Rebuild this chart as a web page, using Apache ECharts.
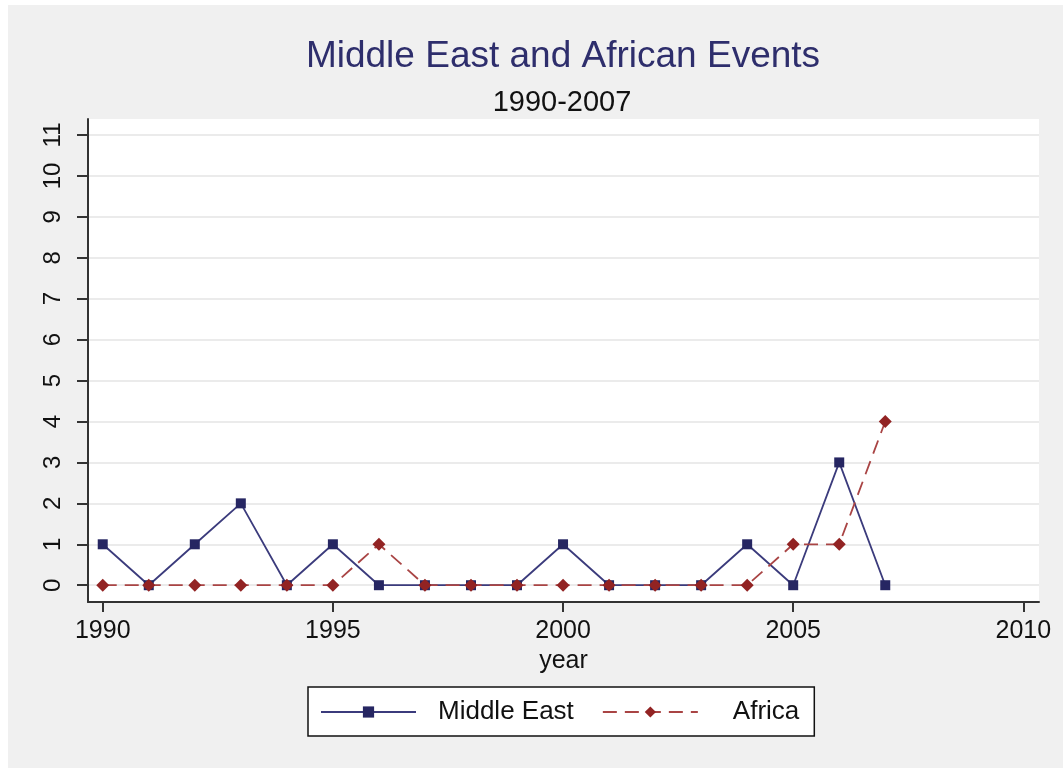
<!DOCTYPE html>
<html>
<head>
<meta charset="utf-8">
<script src="https://cdn.jsdelivr.net/npm/echarts@6/dist/echarts.min.js"></script>
<style>
html,body{margin:0;padding:0;background:#fff;}
#chart{width:1063px;height:768px;}
</style>
</head>
<body>
<div id="chart"></div>
<script>
const years = [1990,1991,1992,1993,1994,1995,1996,1997,1998,1999,2000,2001,2002,2003,2004,2005,2006,2007];
const middleEast = [1,0,1,2,0,1,0,0,0,0,1,0,0,0,1,0,3,0];
const africa = [0,0,0,0,0,0,1,0,0,0,0,0,0,0,0,1,1,4];
const xTicks = [1990,1995,2000,2005,2010];
const yTicks = [0,1,2,3,4,5,6,7,8,9,10,11];

const FONT = 'Liberation Sans, Arial, sans-serif';
const chart = echarts.init(document.getElementById('chart'));
chart.setOption({
  backgroundColor: '#ffffff',
  animation: false,
  graphic: [{
    type: 'rect', silent: true, z: -100,
    shape: {x: 8, y: 5, width: 1063, height: 768},
    style: {fill: '#f0f0f0'}
  }],
  title: [
    {text: 'Middle East and African Events', left: 558, top: 33, textAlign: 'center',
     textStyle: {fontFamily: FONT, fontSize: 37, fontWeight: 'normal', color: '#2e2e6c'}},
    {text: '1990-2007', left: 557, top: 83, textAlign: 'center',
     textStyle: {fontFamily: FONT, fontSize: 29, fontWeight: 'normal', color: '#111'}}
  ],
  grid: {left: 88, right: 24, top: 119, bottom: 166, show: true, backgroundColor: '#ffffff', borderWidth: 0},
  xAxis: {
    type: 'value', min: 1989.68, max: 2010.34,
    name: 'year', nameLocation: 'middle', nameGap: 40,
    nameTextStyle: {fontFamily: FONT, fontSize: 25, color: '#111'},
    axisLine: {show: true, onZero: false, lineStyle: {color: '#333', width: 2}},
    axisTick: {show: true, length: 10, lineStyle: {color: '#333', width: 2}, customValues: xTicks},
    axisLabel: {fontFamily: FONT, fontSize: 25, color: '#111', margin: 17, customValues: xTicks,
                formatter: v => String(v)},
    splitLine: {show: false}
  },
  yAxis: {
    type: 'value', min: -0.41, max: 11.39,
    axisLine: {show: true, onZero: false, lineStyle: {color: '#333', width: 2}},
    axisTick: {show: true, length: 11, lineStyle: {color: '#333', width: 2}, customValues: yTicks},
    axisLabel: {fontFamily: FONT, fontSize: 24, color: '#111', margin: 23, rotate: 90, customValues: yTicks},
    splitLine: {show: true, lineStyle: {color: '#ebebeb', width: 2}}
  },
  legend: {
    left: 308, top: 687,
    backgroundColor: '#ffffff', borderColor: '#111', borderWidth: 1.5,
    padding: [12, 15, 11, 12],
    itemWidth: 95, itemHeight: 14, itemGap: 28,
    textStyle: {fontFamily: FONT, fontSize: 26, color: '#111', padding: [0, 0, 0, 17]},
    data: [
      {name: 'Middle East'},
      {name: 'Africa', textStyle: {padding: [0, 0, 0, 30]}}
    ]
  },
  series: [
    {
      name: 'Middle East', type: 'line',
      data: years.map((y, i) => [y, middleEast[i]]),
      symbol: 'rect', symbolSize: 10,
      lineStyle: {color: '#3b3b7c', width: 1.8},
      itemStyle: {color: '#262662'},
      z: 3
    },
    {
      name: 'Africa', type: 'line',
      data: years.map((y, i) => [y, africa[i]]),
      symbol: 'diamond', symbolSize: 13,
      lineStyle: {color: '#a94444', width: 1.8, type: [14, 8]},
      itemStyle: {color: '#922323'},
      z: 4
    }
  ]
});
</script>
</body>
</html>
